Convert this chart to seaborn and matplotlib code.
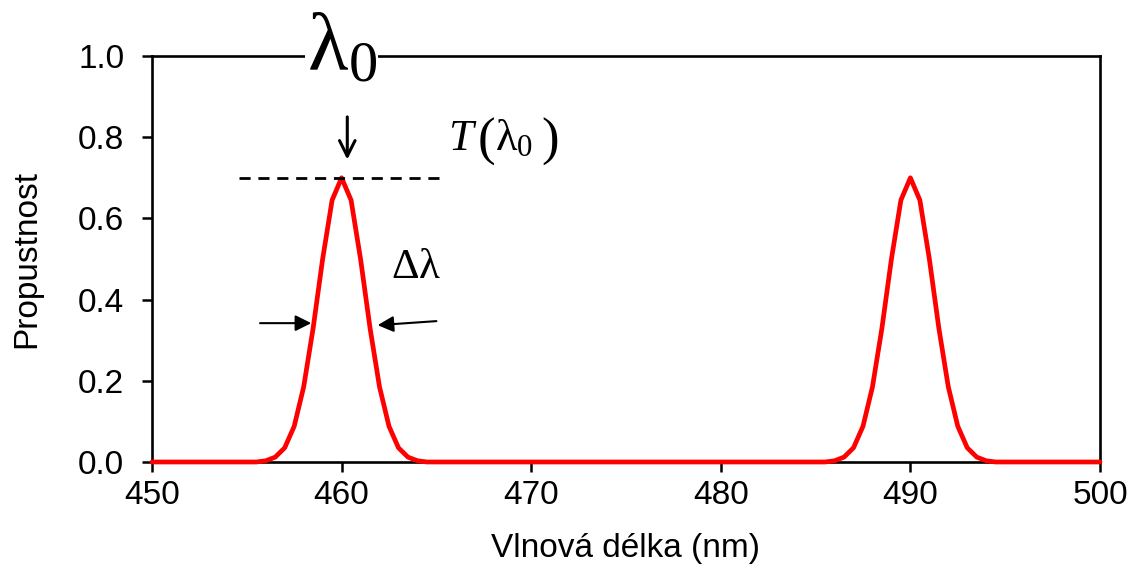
import matplotlib
matplotlib.use("Agg")
import seaborn as sns
import matplotlib.pyplot as plt

# Transmission spectrum of the filter (two orders, peaks at 460 and 490 nm)
wavelength = [450, 455.5, 456, 456.5, 457, 457.5, 458, 458.5, 459, 459.5, 460,
              460.5, 461, 461.5, 462, 462.5, 463, 463.5, 464, 464.5,
              485.5, 486, 486.5, 487, 487.5, 488, 488.5, 489, 489.5, 490,
              490.5, 491, 491.5, 492, 492.5, 493, 493.5, 494, 494.5, 500]
transmission = [0, 0, 0.003, 0.012, 0.035, 0.088, 0.185, 0.33, 0.50, 0.645, 0.70,
                0.645, 0.50, 0.33, 0.185, 0.088, 0.035, 0.012, 0.003, 0,
                0, 0.003, 0.012, 0.035, 0.088, 0.185, 0.33, 0.50, 0.645, 0.70,
                0.645, 0.50, 0.33, 0.185, 0.088, 0.035, 0.012, 0.003, 0, 0]

x_ticks = [450, 460, 470, 480, 490, 500]
y_ticks = [0.0, 0.2, 0.4, 0.6, 0.8, 1.0]

lambda0 = 460
t_peak = 0.70

sns.set_style("ticks")
plt.rcParams['font.family'] = ['Liberation Sans', 'DejaVu Sans']
plt.rcParams['text.color'] = 'black'
plt.rcParams['axes.labelcolor'] = 'black'
plt.rcParams['xtick.color'] = 'black'
plt.rcParams['ytick.color'] = 'black'
plt.rcParams['mathtext.fontset'] = 'custom'
plt.rcParams['mathtext.rm'] = 'Liberation Serif'
plt.rcParams['mathtext.it'] = 'Liberation Serif:italic'

fig, ax = plt.subplots(figsize=(11.36, 5.67), dpi=100)
fig.subplots_adjust(left=0.1338, right=0.9683, bottom=0.1852, top=0.9012)

sns.lineplot(x=wavelength, y=transmission, color="red", linewidth=3.4,
             ax=ax, zorder=3, clip_on=False)

ax.set_xlim(450, 500)
ax.set_ylim(0, 1.0)
ax.set_xticks(x_ticks)
ax.set_yticks(y_ticks)
ax.set_yticklabels([f"{v:.1f}" for v in y_ticks])
ax.tick_params(direction="out", length=7, width=1.8, labelsize=24)
ax.tick_params(axis="y", pad=13)
ax.tick_params(axis="x", pad=6)
for s in ax.spines.values():
    s.set_linewidth(1.9)
    s.set_color("black")

ax.set_xlabel("Vlnová délka (nm)", fontsize=24, labelpad=16)
ax.set_ylabel("Propustnost", fontsize=24, labelpad=26)

# peak transmission marker
ax.plot([454.6, 465.2], [t_peak, t_peak], color="black", lw=2.0,
        dashes=(4.0, 2.8), zorder=4)
ax.annotate("", xy=(460.3, 0.745), xytext=(460.3, 0.85),
            arrowprops=dict(arrowstyle="->", lw=2.2, color="black",
                            mutation_scale=28, shrinkA=0, shrinkB=0))
ax.text(lambda0, 1.02, r"$\mathrm{\lambda}_0$", fontsize=60, ha="center",
        va="center", zorder=10, clip_on=False,
        bbox=dict(facecolor="white", edgecolor="none", pad=1))

# T(lambda0) label, parentheses drawn larger
serif = "Liberation Serif"
ax.text(465.6, 0.768, r"$T$", fontsize=32, ha="left", va="baseline")
ax.text(467.65, 0.758, "(", fontsize=38, family=serif, ha="center", va="baseline")
ax.text(468.1, 0.768, r"$\mathrm{\lambda}_0$", fontsize=32, ha="left", va="baseline")
ax.text(471.0, 0.758, ")", fontsize=38, family=serif, ha="center", va="baseline")

# bandwidth arrows
ax.annotate("", xy=(458.4, 0.342), xytext=(455.7, 0.342),
            arrowprops=dict(arrowstyle="-|>", lw=1.5, color="black",
                            mutation_scale=24, shrinkA=0, shrinkB=0))
ax.annotate("", xy=(461.9, 0.337), xytext=(465.0, 0.347),
            arrowprops=dict(arrowstyle="-|>", lw=1.5, color="black",
                            mutation_scale=24, shrinkA=0, shrinkB=0))
ax.text(462.6, 0.48, r"$\mathrm{\Delta\lambda}$", fontsize=31,
        ha="left", va="center")

plt.savefig("out.png", dpi=100)
